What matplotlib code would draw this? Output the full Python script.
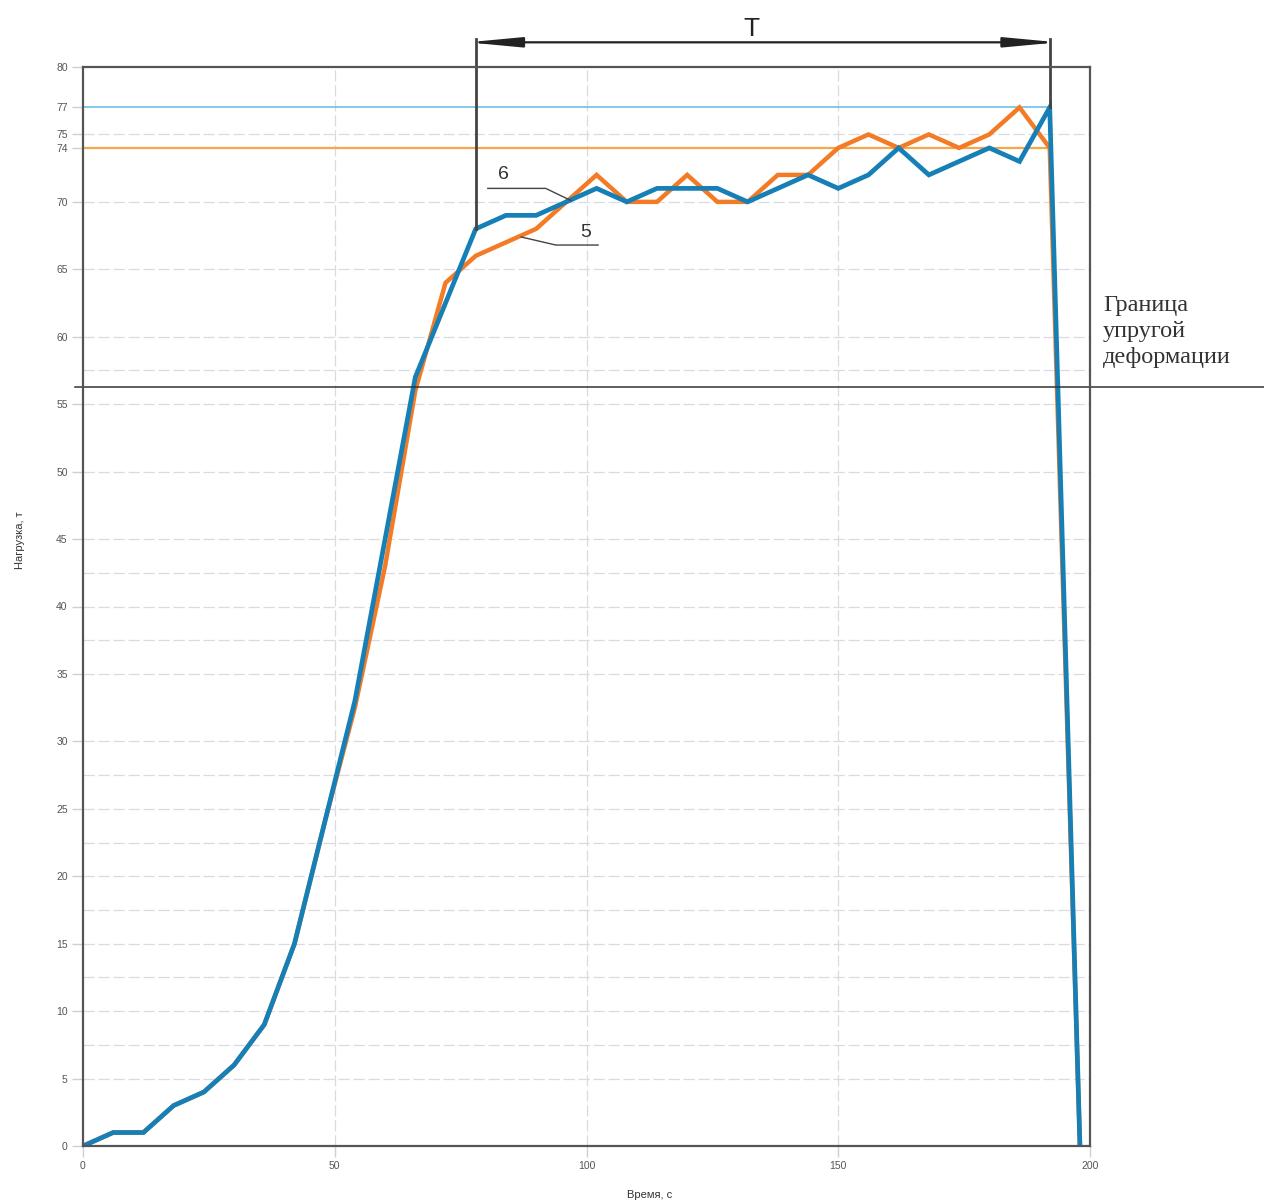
import matplotlib
matplotlib.use("Agg")
import matplotlib.pyplot as plt
import numpy as np

# ---- data ----
time_s = list(range(0, 199, 6))
load_6 = [0, 1, 1, 3, 4, 6, 9, 15, 24, 33, 45, 57, 62.5, 68, 69, 69, 70, 71, 70, 71,
          71, 71, 70, 71, 72, 71, 72, 74, 72, 73, 74, 73, 77, 0]
load_5 = [0, 1, 1, 3, 4, 6, 9, 15, 24, 32.5, 43, 56, 64, 66, 67, 68, 70, 72, 70, 70,
          72, 70, 70, 72, 72, 74, 75, 74, 75, 74, 75, 77, 74, 0]
x_ticks = [0, 50, 100, 150, 200]
y_ticks = [0, 5, 10, 15, 20, 25, 30, 35, 40, 45, 50, 55, 60, 65, 70, 74, 75, 77, 80]
y_minor_grid = [7.5, 12.5, 17.5, 22.5, 27.5, 37.5, 42.5, 57.5]
max_6 = 77
max_5 = 74
elastic_limit = 56.3
t_start, t_end = 78, 192
x_label = "Время, с"
y_label = "Нагрузка, т"
limit_text = "Граница\nупругой\nдеформации"

plt.rcParams['font.family'] = ['Liberation Sans', 'DejaVu Sans']

fig = plt.figure(figsize=(12.64, 12.04), dpi=100)
ax = fig.add_axes([83/1264, 58/1204, (1090-83)/1264, (1146-67)/1204])
ax.set_xlim(0, 200)
ax.set_ylim(0, 80)

grid_kw = dict(color='#dadae4', lw=0.9, ls=(0, (9, 3)), zorder=0)
for y in y_ticks:
    if y not in (74, 77, 80, 0):
        ax.axhline(y, **grid_kw)
for y in y_minor_grid:
    ax.axhline(y, **grid_kw)
for x in x_ticks[1:-1]:
    ax.axvline(x, **grid_kw)

# reference lines
ax.plot([0, t_end], [max_6, max_6], color='#6ec0e6', lw=1.2, zorder=2)
ax.plot([0, t_end], [max_5, max_5], color='#f8a64a', lw=1.6, zorder=2)

# data
ax.plot(time_s, load_5, color='#f47b26', lw=3.2, zorder=3, solid_joinstyle='miter')
ax.plot(time_s, load_6, color='#1680b6', lw=3.4, zorder=4, solid_joinstyle='miter')

# elastic limit line
ax.plot([-1.6, 236], [elastic_limit, elastic_limit], color='#333333', lw=1.1,
        clip_on=False, zorder=5)

# T dimension
ax.plot([t_start, t_start], [load_6[13], 82.1], color='#444444', lw=2.0, clip_on=False, zorder=5)
ax.plot([t_end, t_end], [max_6, 82.1], color='#444444', lw=2.0, clip_on=False, zorder=5)
ax.annotate('', xy=(t_start - 1.6, 81.83), xytext=(t_end + 1.6, 81.83), xycoords='data',
            arrowprops=dict(arrowstyle='<|-|>,head_length=1.6,head_width=0.15',
                            mutation_scale=20, lw=1.6, color='#222222',
                            shrinkA=0, shrinkB=0), annotation_clip=False, zorder=6)
ax.text(132.7, 81.95, 'T', ha='center', va='bottom', fontsize=19,
        color='#222222', clip_on=False)

# leader annotations
ax.plot([80.4, 91.9, 96.9], [71.0, 71.0, 70.1], color='#444444', lw=1.0, zorder=6)
ax.text(83.6, 71.4, '6', fontsize=14, color='#333333', ha='center', va='bottom')
ax.plot([102.3, 93.9, 87.0], [66.8, 66.8, 67.4], color='#444444', lw=1.0, zorder=6)
ax.text(99.9, 67.1, '5', fontsize=14, color='#333333', ha='center', va='bottom')

# right text
fig.text(1103/1264, 1 - 295/1204, limit_text, ha='left', va='top', fontsize=17.5,
         family=['Liberation Serif'], color='#333333', linespacing=1.32)

# ticks and spines
ax.set_xticks(x_ticks)
ax.set_yticks(y_ticks)
ax.tick_params(axis='both', length=8, width=1, color='#d0d0d8', labelsize=7.5,
               labelcolor='#555555', pad=3)
for s in ax.spines.values():
    s.set_color('#555555')
    s.set_linewidth(1.6)
    s.set_zorder(7)

fig.text(20/1264, 1 - 540/1204, y_label, rotation=90, ha='center', va='center',
         fontsize=8, color='#333333')
fig.text(650/1264, 1 - 1195/1204, x_label, ha='center', va='center',
         fontsize=8, color='#333333')

fig.savefig('out.png', dpi=100, facecolor='white')
